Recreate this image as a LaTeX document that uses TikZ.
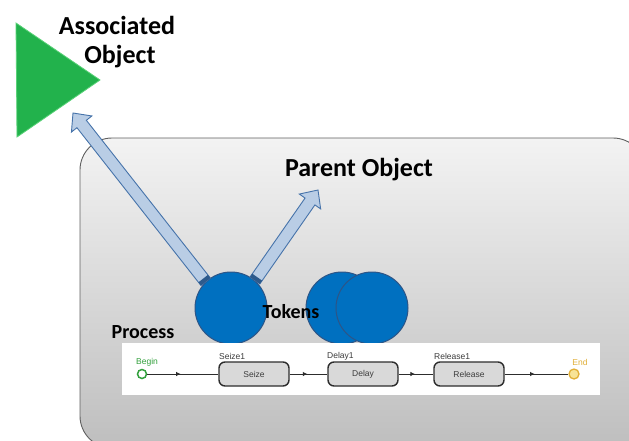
\documentclass[tikz,border=0pt]{standalone}
\usepackage{fontspec}
\setmainfont{Carlito}
\newfontfamily\flowfont{Liberation Sans}
\usetikzlibrary{calc,decorations.markings,arrows.meta}

\definecolor{boxtop}{RGB}{243,243,243}
\definecolor{boxbot}{RGB}{190,190,190}
\definecolor{boxline}{RGB}{95,95,95}
\definecolor{tokfill}{RGB}{0,112,192}
\definecolor{tokline}{RGB}{45,85,135}
\definecolor{arrfill}{RGB}{185,205,229}
\definecolor{arrline}{RGB}{70,115,170}
\definecolor{arrcap}{RGB}{45,90,140}
\definecolor{assocgreen}{RGB}{34,178,76}
\definecolor{assocedge}{RGB}{90,210,120}
\definecolor{stepfill}{RGB}{217,217,217}
\definecolor{stepline}{RGB}{45,45,45}
\definecolor{begingreen}{RGB}{50,160,60}
\definecolor{endfill}{RGB}{247,227,150}
\definecolor{endline}{RGB}{225,175,55}
\definecolor{labelgray}{RGB}{60,60,60}

\tikzset{
  biglabel/.style={font=\bfseries\fontsize{26}{28}\selectfont, text=black, inner sep=0pt},
  midlabel/.style={font=\bfseries\fontsize{20}{22}\selectfont, text=black, inner sep=0pt},
  token/.style={circle, minimum size=72pt, inner sep=0pt, fill=tokfill, draw=tokline, line width=1pt},
  blockbody/.style={fill=arrfill, draw=arrline, line width=0.9pt, line join=miter},
  flowstep/.style={rounded corners=6pt, minimum width=70pt, minimum height=24pt, fill=stepfill,
    draw=stepline, line width=1.4pt, font=\flowfont\fontsize{8.5}{9}\selectfont, text=labelgray},
  flowlabel/.style={font=\flowfont\fontsize{8.5}{9}\selectfont, inner sep=0pt, anchor=south west},
  flowlink/.style={draw=stepline, line width=0.9pt, postaction={decorate},
    decoration={markings, mark=at position 0.47 with {\arrow{Latex[length=4.5pt,width=4.5pt]}}}},
}

% block arrow from #1 (tail) to #2 (tip)
\newcommand\blockarrow[2]{%
  \coordinate (ba-h) at ($(#2)!14pt!(#1)$);
  \coordinate (ba-c) at ($(#1)!4pt!(#2)$);
  \draw[blockbody]
    ($(#1)!6pt!90:(#2)$) -- ($(ba-h)!6pt!90:(#2)$) -- ($(ba-h)!13pt!90:(#2)$) -- (#2)
    -- ($(ba-h)!13pt!-90:(#2)$) -- ($(ba-h)!6pt!-90:(#2)$) -- ($(#1)!6pt!-90:(#2)$) -- cycle;
  \fill[arrcap]
    ($(#1)!6pt!90:(#2)$) -- ($(ba-c)!6pt!90:(#2)$) -- ($(ba-c)!6pt!-90:(#2)$)
    -- ($(#1)!6pt!-90:(#2)$) -- cycle;
}

\begin{document}
\begin{tikzpicture}[x=1pt,y=-1pt]
\useasboundingbox (0,0) rectangle (629,441);
\clip (0,0) rectangle (629,441);

% parent object container
\shade[top color=boxtop, bottom color=boxbot, draw=boxline, line width=0.9pt, rounded corners=32pt]
  (80,138) rectangle (645,448);

% associated object
\filldraw[fill=assocgreen, draw=assocedge, line width=0.8pt, line join=miter]
  (16,23) -- (100,80) -- (17,137) -- cycle;
\coordinate (assoc-in) at (73,113);
\node[biglabel] (assoc-t1) at (117,25) {Associated};
\node[biglabel] (assoc-t2) at (120,57) {Object};

\node[biglabel] (parent) at (359,170) {Parent Object};
\coordinate (parent-in) at (318,190);

% tokens
\node[token] (tok1) at (231,308) {};
\node[token] (tok2) at (342,308) {};
\node[token] (tok3) at (372,308) {};
\node[midlabel] (tokens) at (291,312) {Tokens};

\blockarrow{tok1.134}{assoc-in}
\blockarrow{tok1.49}{parent-in}

% process flowchart
\node[midlabel] (process) at (143,332) {Process};
\fill[white] (122,343) rectangle (600,395);

\node[circle, minimum size=9pt, inner sep=0pt, draw=begingreen, fill=white, line width=1.5pt] (begin) at (142,374) {};
\node[flowstep] (seize) at (254,374) {Seize};
\node[flowstep] (delay) at (363,374) {Delay};
\node[flowstep] (release) at (469,374) {Release};
\node[circle, minimum size=10pt, inner sep=0pt, draw=endline, fill=endfill, line width=1.3pt] (end) at (574,374) {};

\node[flowlabel, text=begingreen, anchor=south] (begin-l) at (147,366) {Begin};
\node[flowlabel, text=labelgray] (seize-l) at (219,360) {Seize1};
\node[flowlabel, text=labelgray] (delay-l) at (327,360) {Delay1};
\node[flowlabel, text=labelgray] (release-l) at (434,360) {Release1};
\node[flowlabel, text=endline, anchor=south] (end-l) at (580,366) {End};

\draw[flowlink] (begin) -- (seize);
\draw[flowlink] (seize) -- (delay);
\draw[flowlink] (delay) -- (release);
\draw[flowlink] (release) -- (end);
\end{tikzpicture}
\end{document}
